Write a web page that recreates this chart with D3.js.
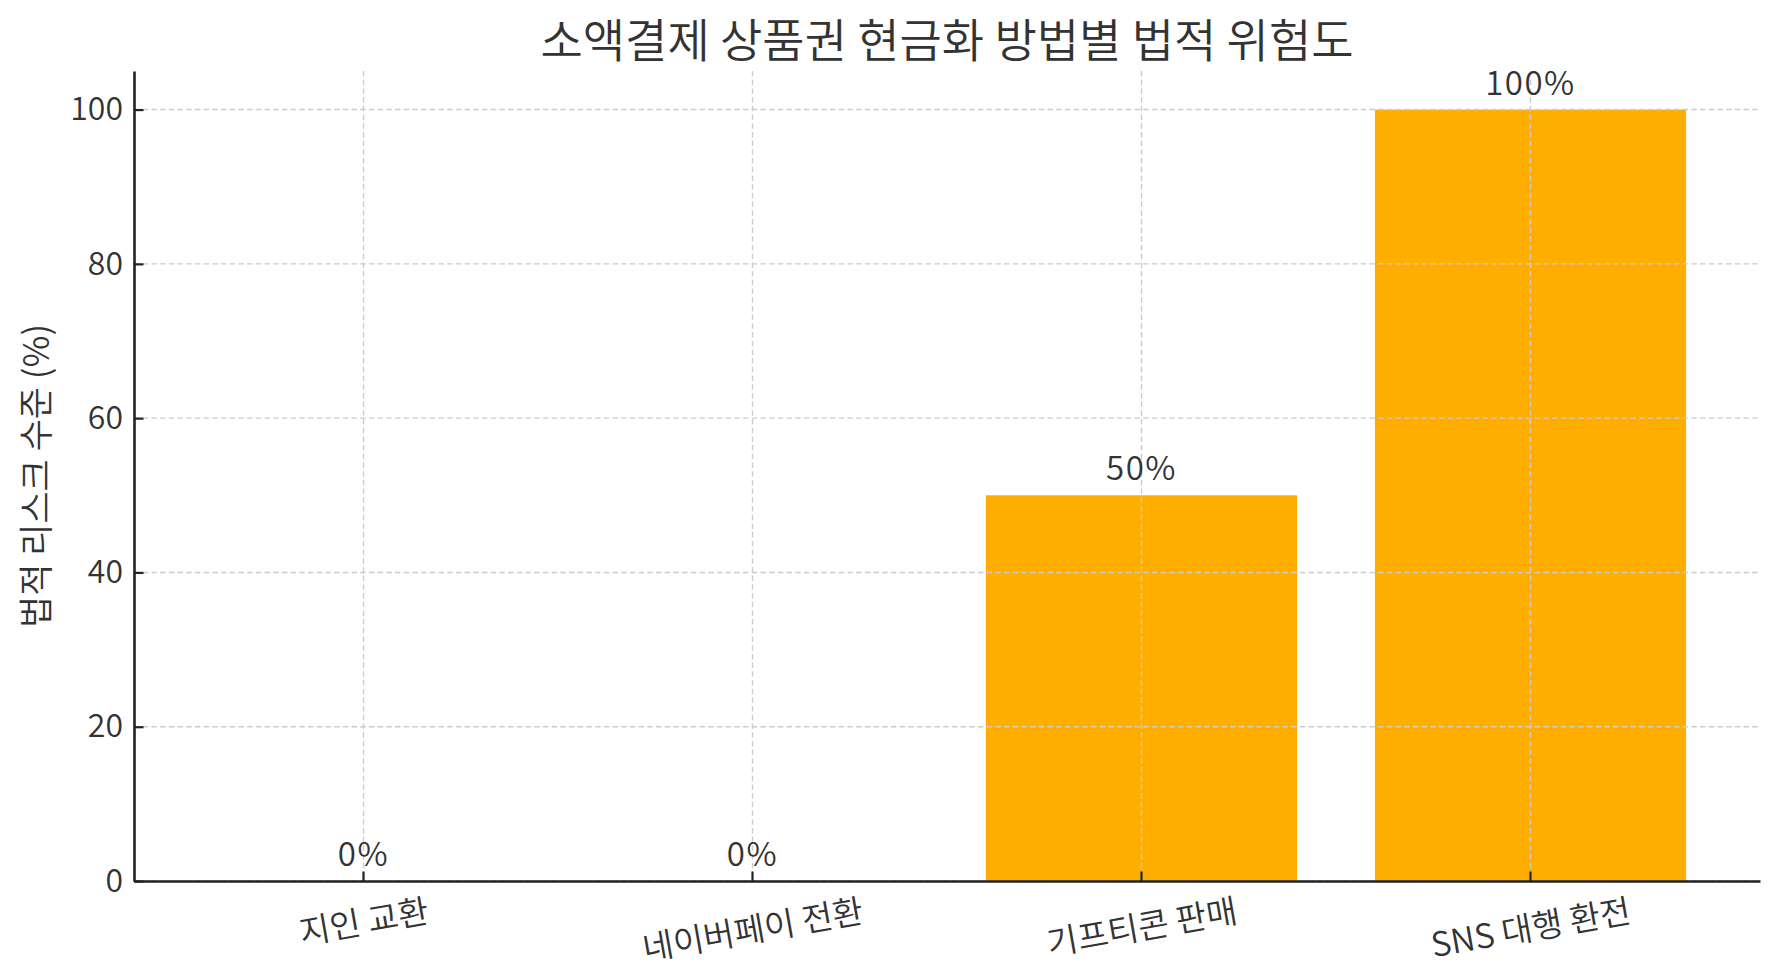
<!DOCTYPE html>
<html>
<head>
<meta charset="utf-8">
<script src="https://cdn.jsdelivr.net/npm/d3@7"></script>
<style>
  body { margin: 0; background: #fff; }
  svg { display: block; font-family: "Noto Sans CJK KR", "Noto Sans", sans-serif; font-weight: 350; }
</style>
</head>
<body>
<div id="chart"></div>
<script>
// data
var categories = ["지인 교환", "네이버페이 전환", "기프티콘 판매", "SNS 대행 환전"];
var riskValues = [0, 0, 50, 100];
var yTicks = [0, 20, 40, 60, 80, 100];
var titleText = "소액결제 상품권 현금화 방법별 법적 위험도";
var yLabelText = "법적 리스크 수준 (%)";

var svgWidth = 1779;
var svgHeight = 980;
var margin = { top: 71, right: 19, bottom: 99, left: 134 };
var width = svgWidth - margin.left - margin.right;
var height = svgHeight - margin.top - margin.bottom;

var barColor = "#ffae00";
var textColor = "#333";
var axisColor = "#222";
var fontStack = "\"Noto Sans CJK KR\", \"Noto Sans\", sans-serif";
var fontWeight = 350;

var svg = d3.select("#chart")
    .append("svg")
    .attr("width", svgWidth)
    .attr("height", svgHeight);

svg.append("rect")
    .attr("width", svgWidth)
    .attr("height", svgHeight)
    .attr("fill", "#fff");

var chartGroup = svg.append("g")
    .attr("transform", `translate(${margin.left}, ${margin.top})`);

// bar width 0.8 of step, small outer margin like matplotlib
var xScale = d3.scaleBand()
    .domain(categories)
    .range([0, width])
    .paddingInner(0.2)
    .paddingOuter(0.19);

var yScale = d3.scaleLinear()
    .domain([0, 105])
    .range([height, 0]);

var rows = categories.map((c, i) => ({ name: c, value: riskValues[i] }));

// bars first, grid goes on top of them
chartGroup.selectAll("rect.bar")
    .data(rows)
    .enter()
    .append("rect")
    .attr("class", "bar")
    .attr("x", d => xScale(d.name))
    .attr("y", d => yScale(d.value))
    .attr("width", xScale.bandwidth())
    .attr("height", d => yScale(0) - yScale(d.value))
    .attr("fill", barColor);

// dashed grid both ways
var gridGroup = chartGroup.append("g")
    .attr("stroke", "#cccccc")
    .attr("stroke-width", 1.4)
    .attr("stroke-dasharray", "5.5,3.2");

gridGroup.selectAll("line.hgrid")
    .data(yTicks)
    .enter()
    .append("line")
    .attr("x1", 0)
    .attr("x2", width)
    .attr("y1", d => yScale(d))
    .attr("y2", d => yScale(d));

gridGroup.selectAll("line.vgrid")
    .data(categories)
    .enter()
    .append("line")
    .attr("x1", d => xScale(d) + xScale.bandwidth() / 2)
    .attr("x2", d => xScale(d) + xScale.bandwidth() / 2)
    .attr("y1", 0)
    .attr("y2", height);

// axes, ticks point inward
var leftAxis = d3.axisLeft(yScale)
    .tickValues(yTicks)
    .tickSizeInner(-9.5)
    .tickSizeOuter(0)
    .tickPadding(11);

var bottomAxis = d3.axisBottom(xScale)
    .tickSizeInner(-9.5)
    .tickSizeOuter(0)
    .tickPadding(8);

var yAxisG = chartGroup.append("g")
    .call(leftAxis);

var xAxisG = chartGroup.append("g")
    .attr("transform", `translate(0, ${height})`)
    .call(bottomAxis);

[yAxisG, xAxisG].forEach(g => {
    g.select(".domain").attr("stroke", axisColor).attr("stroke-width", 2.6);
    g.selectAll(".tick line").attr("stroke", axisColor).attr("stroke-width", 2.2);
    g.selectAll(".tick text")
        .attr("fill", textColor)
        .style("font-size", "32px")
        .style("font-family", fontStack)
        .style("font-weight", fontWeight);
});

// rotated x labels: centre the rotated box under the tick, top just below axis
var xFont = 33.5;
var angle = 10 * Math.PI / 180;
var labelTop = 7;
xAxisG.selectAll(".tick text")
    .style("font-size", xFont + "px")
    .each(function() {
        var t = d3.select(this);
        var w = this.getComputedTextLength();
        var h = xFont * 1.2;
        var boxH = w * Math.sin(angle) + h * Math.cos(angle);
        var cy = labelTop + boxH / 2;
        t.attr("y", null)
            .attr("dy", null)
            .attr("dominant-baseline", "central")
            .attr("text-anchor", "middle")
            .attr("transform", `translate(0, ${cy}) rotate(-10)`);
    });

// value labels above bars
chartGroup.selectAll("text.barlabel")
    .data(rows)
    .enter()
    .append("text")
    .attr("class", "barlabel")
    .attr("x", d => xScale(d.name) + xScale.bandwidth() / 2)
    .attr("y", d => yScale(d.value) - 15)
    .attr("text-anchor", "middle")
    .attr("fill", textColor)
    .style("font-size", "33px")
    .style("letter-spacing", "1.5px")
    .text(d => d.value + "%");

// title + y label
svg.append("text")
    .attr("x", margin.left + width / 2)
    .attr("y", 57)
    .attr("text-anchor", "middle")
    .attr("fill", textColor)
    .style("font-size", "46px")
    .text(titleText);

svg.append("text")
    .attr("transform", `translate(33, ${margin.top + height / 2}) rotate(-90)`)
    .attr("text-anchor", "middle")
    .attr("dominant-baseline", "central")
    .attr("fill", textColor)
    .style("font-size", "35px")
    .text(yLabelText);
</script>
</body>
</html>
